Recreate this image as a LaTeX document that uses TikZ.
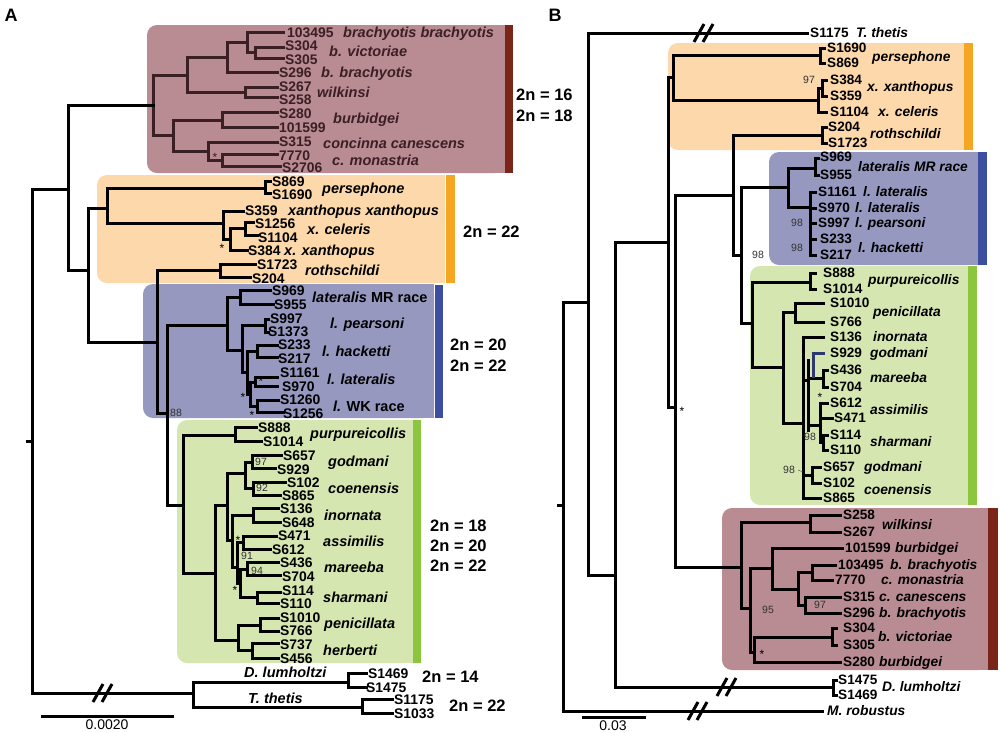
\documentclass[tikz,border=0pt]{standalone}
\usepackage{fontspec}
\setmainfont{Liberation Sans}
\definecolor{pinkbox}{HTML}{B98B93}
\definecolor{pinkbar}{HTML}{7B2518}
\definecolor{pinkln}{HTML}{3A1F25}
\definecolor{orbox}{HTML}{FCD8AA}
\definecolor{orbar}{HTML}{F5A623}
\definecolor{blbox}{HTML}{9698C0}
\definecolor{blbar}{HTML}{3B4EA0}
\definecolor{grbox}{HTML}{D6E6B0}
\definecolor{grbar}{HTML}{8CC63F}
\definecolor{navyln}{HTML}{2E3A6E}
\newcount\lbn
\newcommand\tlab[4][]{\global\advance\lbn by 1\relax\node[#2,#1] (t\the\lbn) at (#3) {#4};}
\newcommand\hbr[3]{\draw (#1,#3)--(#2,#3);}
\newcommand\vbr[3]{\draw (#1,#2)--(#1,#3);}
\begin{document}
\begin{tikzpicture}[x=1pt,y=-1pt,
  tr/.style={line width=3pt,line cap=rect},
  brk/.style={line width=3pt,line cap=butt},
  idA/.style={font=\bfseries\fontsize{13.9}{15}\selectfont,anchor=base west,inner sep=0pt,yshift=-5pt},
  spA/.style={idA,font=\bfseries\itshape\fontsize{14.5}{15}\selectfont},
  idB/.style={font=\bfseries\fontsize{13.6}{14}\selectfont,anchor=base west,inner sep=0pt,yshift=-4.9pt},
  spB/.style={idB,font=\bfseries\itshape\fontsize{13.8}{14}\selectfont},
  chr/.style={font=\bfseries\fontsize{16.5}{17}\selectfont,anchor=base west,inner sep=0pt,yshift=-5.9pt},
  bs/.style={font=\fontsize{10.5}{11}\selectfont,anchor=base west,inner sep=0pt,yshift=-3.8pt,text=black!80},
  st/.style={font=\fontsize{12}{12}\selectfont,anchor=base,inner sep=0pt,yshift=-6.5pt},
  pnl/.style={font=\bfseries\fontsize{18}{18}\selectfont,inner sep=0pt},
  scl/.style={font=\fontsize{14}{14}\selectfont,inner sep=0pt}]
\useasboundingbox (0,0) rectangle (1000,732);
% ---------- boxes panel A
\fill[pinkbox,rounded corners=10pt] (147,25) rectangle (505,173);
\fill[pinkbox] (490,25) rectangle (505,173);
\fill[pinkbar] (505,25) rectangle (513,173);
\fill[orbox,rounded corners=10pt] (97,175) rectangle (445,283);
\fill[orbox] (430,175) rectangle (445,283);
\fill[orbar] (446,175) rectangle (455,283);
\fill[blbox,rounded corners=10pt] (143,284) rectangle (434,418);
\fill[blbox] (420,284) rectangle (434,418);
\fill[blbar] (435,285) rectangle (443,418);
\fill[grbox,rounded corners=10pt] (177,420) rectangle (413,663);
\fill[grbox] (400,420) rectangle (413,663);
\fill[grbar] (413,420) rectangle (421,663);
% ---------- boxes panel B
\fill[orbox,rounded corners=10pt] (668,43) rectangle (964,150);
\fill[orbox] (950,43) rectangle (964,150);
\fill[orbar] (964,43) rectangle (973,150);
\fill[blbox,rounded corners=10pt] (769,152) rectangle (978,265);
\fill[blbox] (960,152) rectangle (978,265);
\fill[blbar] (978,152) rectangle (987,265);
\fill[grbox,rounded corners=10pt] (750,266) rectangle (968,505);
\fill[grbox] (955,266) rectangle (968,505);
\fill[grbar] (968,266) rectangle (977,505);
\fill[pinkbox,rounded corners=10pt] (722,508) rectangle (988,670);
\fill[pinkbox] (975,508) rectangle (988,670);
\fill[pinkbar] (988,508) rectangle (998,670);
% ---------- panel A tree
\begin{scope}[tr,color=pinkln]
\vbr{153}{75}{135}
\hbr{153}{187}{75} \vbr{187}{57}{92}
\hbr{187}{227}{57} \vbr{227}{42}{72}
\hbr{227}{247}{42} \vbr{247}{32}{52}
\hbr{247}{283}{32}
\hbr{247}{255}{52} \vbr{255}{47}{58} \hbr{255}{283}{47} \hbr{255}{283}{58}
\hbr{227}{277}{72}
\hbr{187}{245}{92} \vbr{245}{87}{97} \hbr{245}{277}{87} \hbr{245}{277}{97}
\hbr{153}{173}{135} \vbr{173}{120}{151}
\hbr{173}{222}{120} \vbr{222}{112}{127} \hbr{222}{277}{112} \hbr{222}{277}{127}
\hbr{173}{208}{151} \vbr{208}{142}{160} \hbr{208}{277}{142}
\hbr{208}{222}{160} \vbr{222}{154}{166} \hbr{222}{277}{154} \hbr{222}{280}{166}
\end{scope}
\begin{scope}[tr]
\draw (27,441)--(32,441);
\hbr{68}{153}{105}
\vbr{32}{189}{693} \hbr{32}{68}{189} \vbr{68}{105}{270} \hbr{68}{88}{270} \vbr{88}{208}{342}
% orange
\hbr{88}{107}{208} \vbr{107}{188}{223}
\hbr{107}{265}{188} \vbr{265}{181}{193} \hbr{265}{270}{181} \hbr{265}{270}{193}
\hbr{107}{223}{223} \vbr{223}{211}{239} \hbr{223}{243}{211}
\hbr{223}{230}{239} \vbr{230}{228}{250} \hbr{230}{245}{228} \vbr{245}{222}{235}
\hbr{245}{253}{222} \hbr{245}{257}{235} \hbr{230}{247}{250}
\hbr{88}{157}{342} \vbr{157}{270}{413} \hbr{157}{220}{270} \vbr{220}{264}{277}
\hbr{220}{255}{264} \hbr{220}{250}{277}
\hbr{157}{167}{413} \vbr{167}{325}{505}
% blue
\hbr{167}{227}{325} \vbr{227}{297}{350}
\hbr{227}{240}{297} \vbr{240}{290}{304} \hbr{240}{270}{290} \hbr{240}{273}{304}
\hbr{227}{242}{350} \vbr{242}{325}{372}
\hbr{242}{265}{325} \vbr{265}{319}{332} \hbr{265}{268}{319} \hbr{265}{268}{332}
\hbr{242}{247}{372} \vbr{247}{351}{394}
\hbr{247}{257}{351} \vbr{257}{345}{357} \hbr{257}{277}{345} \hbr{257}{277}{357}
\hbr{247}{250}{394} \vbr{250}{382}{406}
\hbr{250}{255}{382} \vbr{255}{377}{386} \hbr{255}{277}{377} \hbr{255}{277}{386}
\hbr{250}{257}{406} \vbr{257}{400}{412} \hbr{257}{278}{400} \hbr{257}{283}{412}
% green
\hbr{167}{183}{505} \vbr{183}{435}{573}
\hbr{183}{235}{435} \vbr{235}{427}{441} \hbr{235}{256}{427} \hbr{235}{261}{441}
\hbr{183}{215}{573} \vbr{215}{505}{640}
\hbr{215}{227}{505} \vbr{227}{473}{540}
\hbr{227}{245}{473} \vbr{245}{462}{488}
\hbr{245}{252}{462} \vbr{252}{455}{468} \hbr{252}{281}{455} \hbr{252}{275}{468}
\hbr{245}{253}{488} \vbr{253}{482}{495} \hbr{253}{285}{482} \hbr{253}{280}{495}
\hbr{227}{232}{540} \vbr{232}{515}{567}
\hbr{232}{253}{515} \vbr{253}{508}{522} \hbr{253}{278}{508} \hbr{253}{280}{522}
\hbr{232}{237}{567} \vbr{237}{542}{583}
\hbr{237}{243}{542} \vbr{243}{536}{549} \hbr{243}{276}{536} \hbr{243}{270}{549}
\hbr{237}{240}{583} \vbr{240}{569}{597}
\hbr{240}{247}{569} \vbr{247}{562}{575} \hbr{247}{278}{562} \hbr{247}{280}{575}
\hbr{240}{257}{597} \vbr{257}{592}{603} \hbr{257}{280}{592} \hbr{257}{278}{603}
\hbr{215}{238}{640} \vbr{238}{625}{650}
\hbr{238}{260}{625} \vbr{260}{618}{631} \hbr{260}{278}{618} \hbr{260}{278}{631}
\hbr{238}{252}{650} \vbr{252}{643}{658} \hbr{252}{278}{643} \hbr{252}{278}{658}
% outgroups
\hbr{32}{193}{693} \vbr{193}{682}{707}
\hbr{193}{348}{682} \vbr{348}{673}{687} \hbr{348}{366}{673} \hbr{348}{366}{687}
\hbr{193}{362}{707} \vbr{362}{699}{713} \hbr{362}{392}{699} \hbr{362}{392}{713}
\draw (42,716)--(172,716);
\end{scope}
\draw[brk] (93,702)--(103,684) (102,702)--(112,684);
% ---------- panel B tree
\begin{scope}[tr]
\draw (558,505)--(563,505);
\vbr{563}{302}{711} \hbr{563}{588}{302} \hbr{563}{822}{711}
\vbr{588}{33}{575} \hbr{588}{807}{33} \hbr{588}{615}{575}
\vbr{615}{242}{687} \hbr{615}{833}{687} \vbr{833}{680}{695} \hbr{833}{836}{680} \hbr{833}{836}{695}
\hbr{615}{668}{242} \vbr{668}{77}{407}
\hbr{668}{673}{77} \vbr{673}{55}{100}
\hbr{673}{820}{55} \vbr{820}{48}{63} \hbr{820}{824}{48} \hbr{820}{824}{63}
\hbr{673}{818}{100} \vbr{818}{88}{112} \hbr{818}{822}{88} \vbr{822}{80}{96}
\hbr{822}{826}{80} \hbr{822}{826}{96} \hbr{818}{826}{112}
\hbr{668}{675}{407} \vbr{675}{195}{567}
\hbr{675}{733}{195} \vbr{733}{135}{255}
\hbr{733}{822}{135} \vbr{822}{127}{143} \hbr{822}{826}{127} \hbr{822}{826}{143}
\hbr{733}{741}{255} \vbr{741}{187}{323}
\hbr{741}{788}{187} \vbr{788}{168}{207}
\hbr{788}{815}{168} \vbr{815}{158}{175} \hbr{815}{818}{158} \hbr{815}{818}{175}
\hbr{788}{810}{207} \vbr{810}{192}{255}
\hbr{810}{815}{192} \hbr{810}{815}{208} \hbr{810}{815}{223} \hbr{810}{815}{239} \hbr{810}{815}{255}
% green B
\hbr{741}{752}{323} \vbr{752}{282}{367}
\hbr{752}{810}{282} \vbr{810}{273}{289} \hbr{810}{815}{273} \hbr{810}{815}{289}
\hbr{752}{783}{367} \vbr{783}{312}{423}
\hbr{783}{795}{312} \vbr{795}{303}{322} \hbr{795}{823}{303} \hbr{795}{823}{322}
\hbr{783}{803}{423} \vbr{803}{337}{498} \hbr{803}{823}{337}
\hbr{803}{808}{380} \vbr{808}{360}{430}
\hbr{808}{823}{378} \vbr{823}{370}{387} \hbr{823}{827}{370} \hbr{823}{827}{387}
\hbr{808}{820}{425} \vbr{820}{403}{442}
\hbr{820}{827}{403} \hbr{820}{832}{418}
\hbr{820}{823}{442} \vbr{823}{435}{450} \hbr{823}{827}{435} \hbr{823}{827}{450}
\hbr{803}{812}{475} \vbr{812}{467}{483} \hbr{812}{820}{467} \hbr{812}{820}{483}
\hbr{803}{820}{498}
% pink B
\hbr{675}{741}{567} \vbr{741}{522}{608}
\hbr{741}{810}{522} \vbr{810}{515}{532} \hbr{810}{840}{515} \hbr{810}{840}{532}
\hbr{741}{750}{608} \vbr{750}{568}{652}
\hbr{750}{772}{568} \vbr{772}{548}{589} \hbr{772}{842}{548}
\hbr{772}{798}{589} \vbr{798}{572}{605}
\hbr{798}{812}{572} \vbr{812}{565}{580} \hbr{812}{835}{565} \hbr{812}{832}{580}
\hbr{798}{805}{605} \vbr{805}{597}{613} \hbr{805}{840}{597} \hbr{805}{840}{613}
\hbr{750}{754}{652} \vbr{754}{637}{662}
\hbr{754}{832}{637} \vbr{832}{628}{645} \hbr{832}{836}{628} \hbr{832}{836}{645}
\hbr{754}{840}{662}
\draw (583,717)--(644,717);
\end{scope}
\begin{scope}[tr,color=navyln]
\vbr{813}{353}{376} \hbr{813}{823}{353}
\end{scope}
\draw[thin,black!70] (798,470)--(803,472);
\draw[brk] (694,42)--(704,24) (703,42)--(713,24);
\draw[brk] (717,696)--(727,678) (726,696)--(736,678);
\draw[brk] (688,720)--(698,702) (697,720)--(707,702);
% ---------- panel labels and scales
\node[pnl] (pA) at (11,15) {A};
\node[pnl] (pB) at (555,15) {B};
\node[scl] (sA) at (107,725) {0.0020};
\node[scl] (sB) at (613,726) {0.03};
% ---------- panel A labels: pink
\begin{scope}[color=pinkln]
\tlab{idA}{287,32}{103495} \tlab{spA}{343,32}{brachyotis brachyotis}
\tlab{idA}{285,45}{S304} \tlab{spA}{329,51}{b. victoriae} \tlab{idA}{285,59}{S305}
\tlab{idA}{279,72}{S296} \tlab{spA}{321,72}{b. brachyotis}
\tlab{idA}{279,86}{S267} \tlab{spA}{317,92}{wilkinsi} \tlab{idA}{279,99}{S258}
\tlab{idA}{279,113}{S280} \tlab{spA}{333,118}{burbidgei} \tlab{idA}{279,127}{101599}
\tlab{idA}{279,141}{S315} \tlab{spA}{323,143}{concinna canescens}
\tlab{idA}{279,155}{7770} \tlab{spA}{332,160}{c. monastria} \tlab{idA}{282,167}{S2706}
\node[st] (sa1) at (215,155) {*};
\end{scope}
% orange A
\tlab{idA}{272,181}{S869} \tlab{spA}{322,188}{persephone} \tlab{idA}{272,194}{S1690}
\tlab{idA}{245,210}{S359} \tlab{spA}{288,210}{xanthopus xanthopus}
\tlab{idA}{255,223}{S1256} \tlab{spA}{307,229}{x. celeris} \tlab{idA}{258,237}{S1104}
\tlab{idA}{248,250}{S384} \tlab{spA}{284,250}{x. xanthopus}
\tlab{idA}{257,264}{S1723} \tlab{spA}{305,270}{rothschildi} \tlab{idA}{252,278}{S204}
% blue A
\tlab{idA}{272,290}{S969} \tlab{spA}{312,297}{lateralis \upshape MR race} \tlab{idA}{274,304}{S955}
\tlab{idA}{270,318}{S997} \tlab{spA}{330,323}{l. pearsoni} \tlab{idA}{268,331}{S1373}
\tlab{idA}{278,344}{S233} \tlab{spA}{322,351}{l. hacketti} \tlab{idA}{278,358}{S217}
\tlab{idA}{280,372}{S1161} \tlab{spA}{327,379}{l. lateralis} \tlab{idA}{282,386}{S970}
\tlab{idA}{280,399}{S1260} \tlab{spA}{333,406}{l. \upshape WK race} \tlab{idA}{283,413}{S1256}
% green A
\tlab{idA}{258,427}{S888} \tlab{spA}{310,433}{purpureicollis} \tlab{idA}{263,441}{S1014}
\tlab{idA}{283,455}{S657} \tlab{spA}{328,461}{godmani} \tlab{idA}{277,469}{S929}
\tlab{idA}{287,482}{S102} \tlab{spA}{328,488}{coenensis} \tlab{idA}{282,495}{S865}
\tlab{idA}{280,508}{S136} \tlab{spA}{324,515}{inornata} \tlab{idA}{282,522}{S648}
\tlab{idA}{278,535}{S471} \tlab{spA}{323,541}{assimilis} \tlab{idA}{272,549}{S612}
\tlab{idA}{280,562}{S436} \tlab{spA}{324,567}{mareeba} \tlab{idA}{282,576}{S704}
\tlab{idA}{282,590}{S114} \tlab{spA}{323,597}{sharmani} \tlab{idA}{280,603}{S110}
\tlab{idA}{280,617}{S1010} \tlab{spA}{324,623}{penicillata} \tlab{idA}{280,630}{S766}
\tlab{idA}{280,644}{S737} \tlab{spA}{323,650}{herberti} \tlab{idA}{280,658}{S456}
% outgroups A
\tlab{spA}{244,672}{D. lumholtzi} \tlab{spA}{248,698}{T. thetis}
\tlab{idA}{368,673}{S1469} \tlab{idA}{366,687}{S1475}
\tlab{idA}{394,699}{S1175} \tlab{idA}{394,713}{S1033}
% chromosome numbers A
\tlab{chr}{516,95}{2n = 16} \tlab{chr}{516,116}{2n = 18}
\tlab{chr}{463,232}{2n = 22}
\tlab{chr}{450,345}{2n = 20} \tlab{chr}{450,366}{2n = 22}
\tlab{chr}{430,526}{2n = 18} \tlab{chr}{430,546}{2n = 20} \tlab{chr}{430,566}{2n = 22}
\tlab{chr}{422,677}{2n = 14} \tlab{chr}{449,706}{2n = 22}
% support A
\tlab{bs}{170,413}{88} \tlab{bs}{255,462}{97} \tlab{bs}{256,488}{92}
\tlab{bs}{241,556}{91} \tlab{bs}{251,571}{94}
\node[st] (sa2) at (222,246) {*};
\node[st] (sa3) at (261,379) {*};
\node[st] (sa4) at (243,395) {*};
\node[st] (sa5) at (252,413) {*};
\node[st] (sa6) at (238,538) {*};
\node[st] (sa7) at (235,588) {*};
% ---------- panel B labels
\tlab{idB}{810,33}{S1175} \tlab{spB}{856,33}{T. thetis}
\tlab{idB}{827,48}{S1690} \tlab{spB}{872,57}{persephone} \tlab{idB}{827,63}{S869}
\tlab{idB}{830,80}{S384} \tlab{spB}{867,87}{x. xanthopus} \tlab{idB}{830,96}{S359}
\tlab{idB}{830,112}{S1104} \tlab{spB}{878,112}{x. celeris}
\tlab{idB}{828,127}{S204} \tlab{spB}{870,134}{rothschildi} \tlab{idB}{828,143}{S1723}
\tlab{bs}{803,80}{97}
% blue B
\tlab{idB}{820,157}{S969} \tlab{spB}{858,167}{lateralis MR race} \tlab{idB}{820,175}{S955}
\tlab{idB}{818,192}{S1161} \tlab{spB}{863,192}{l. lateralis}
\tlab{idB}{818,208}{S970} \tlab{spB}{855,208}{l. lateralis}
\tlab{idB}{818,223}{S997} \tlab{spB}{855,223}{l. pearsoni}
\tlab{idB}{820,239}{S233} \tlab{spB}{858,248}{l. hacketti} \tlab{idB}{820,255}{S217}
\tlab{bs}{791,223}{98} \tlab{bs}{791,248}{98} \tlab{bs}{752,255}{98}
% green B
\tlab{idB}{823,273}{S888} \tlab{spB}{868,280}{purpureicollis} \tlab{idB}{823,289}{S1014}
\tlab{idB}{830,303}{S1010} \tlab{spB}{873,312}{penicillata} \tlab{idB}{830,322}{S766}
\tlab{idB}{830,337}{S136} \tlab{spB}{873,337}{inornata}
\tlab{idB}{830,353}{S929} \tlab{spB}{870,353}{godmani}
\tlab{idB}{830,370}{S436} \tlab{spB}{870,378}{mareeba} \tlab{idB}{830,387}{S704}
\tlab{idB}{830,403}{S612} \tlab{spB}{870,410}{assimilis} \tlab{idB}{834,418}{S471}
\tlab{idB}{830,435}{S114} \tlab{spB}{870,442}{sharmani} \tlab{idB}{830,450}{S110}
\tlab{idB}{823,467}{S657} \tlab{spB}{864,467}{godmani}
\tlab{idB}{823,483}{S102} \tlab{spB}{864,490}{coenensis} \tlab{idB}{823,498}{S865}
\tlab{bs}{804,437}{98} \tlab{bs}{783,470}{98}
\node[st] (sb1) at (820,395) {*};
\node[st] (sb2) at (682,409) {*};
% pink B
\tlab{idB}{843,515}{S258} \tlab{spB}{882,525}{wilkinsi} \tlab{idB}{843,532}{S267}
\tlab{idB}{845,548}{101599} \tlab{spB}{895,548}{burbidgei}
\tlab{idB}{838,565}{103495} \tlab{spB}{890,565}{b. brachyotis}
\tlab{idB}{835,580}{7770} \tlab{spB}{881,580}{c. monastria}
\tlab{idB}{843,597}{S315} \tlab{spB}{879,597}{c. canescens}
\tlab{idB}{843,613}{S296} \tlab{spB}{879,613}{b. brachyotis}
\tlab{idB}{843,628}{S304} \tlab{spB}{878,637}{b. victoriae} \tlab{idB}{843,645}{S305}
\tlab{idB}{843,662}{S280} \tlab{spB}{879,662}{burbidgei}
\tlab{bs}{762,610}{95} \tlab{bs}{814,605}{97}
\node[st] (sb3) at (762,652) {*};
% outgroups B
\tlab{idB}{838,680}{S1475} \tlab{spB}{882,687}{D. lumholtzi} \tlab{idB}{838,695}{S1469}
\tlab{spB}{827,711}{M. robustus}
\end{tikzpicture}
\end{document}
